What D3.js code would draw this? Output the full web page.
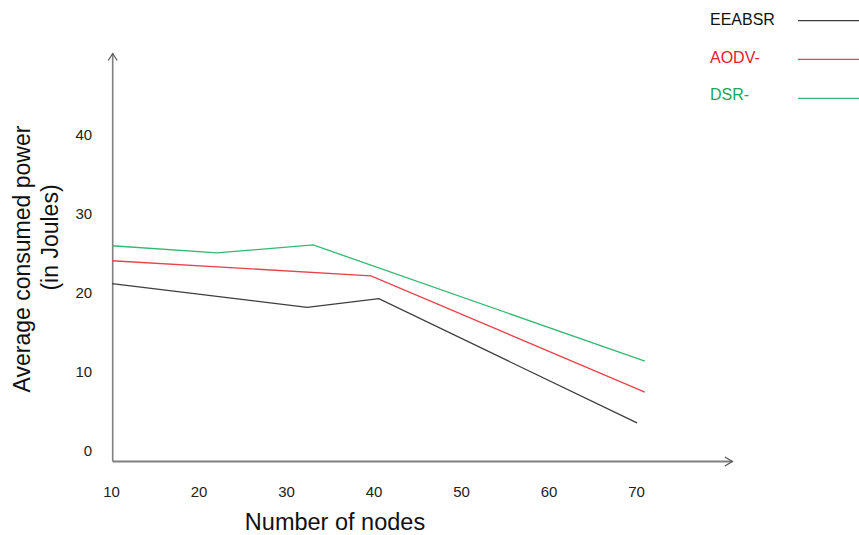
<!DOCTYPE html>
<html>
<head>
<meta charset="utf-8">
<script src="https://cdn.jsdelivr.net/npm/d3@7"></script>
<style>
  html, body { margin: 0; padding: 0; background: #fff; }
  svg { display: block; font-family: "Liberation Sans", Arial, sans-serif; }
</style>
</head>
<body>
<svg id="chart" width="859" height="535"></svg>
<script>
// ---- data ----
const xTicks = [10, 20, 30, 40, 50, 60, 70];
const yTicks = [0, 10, 20, 30, 40];
const seriesNames = ["EEABSR", "AODV-", "DSR-"];
const eeabsrX = [10, 32.3, 40.5, 70];
const eeabsrY = [21.1, 18.1, 19.2, 3.5];
const aodvX = [10, 39.6, 70.9];
const aodvY = [24.0, 22.1, 7.4];
const dsrX = [10, 22, 33, 70.9];
const dsrY = [25.9, 25.0, 26.0, 11.3];
const lineColors = ["#3d3d3d", "#e8434c", "#33b870"];
const textColors = ["#111111", "#e4202c", "#1aa85c"];

const series = [
  { name: seriesNames[0], xs: eeabsrX, ys: eeabsrY },
  { name: seriesNames[1], xs: aodvX, ys: aodvY },
  { name: seriesNames[2], xs: dsrX, ys: dsrY }
];

const svg = d3.select("#chart");
const x = d3.scaleLinear().domain([10, 70]).range([112, 637]);
const y = d3.scaleLinear().domain([0, 40]).range([450.6, 134.2]);

const axisColor = "#808080";
const baseY = y(0) + 11;      // x-axis baseline sits just below zero
const axisX = x(10) + 0.7;
const xEnd = x(80.9);
const yTop = y(50.2);

// axis lines
svg.append("line").attr("x1", axisX).attr("x2", axisX).attr("y1", baseY).attr("y2", yTop)
  .attr("stroke", axisColor).attr("stroke-width", 1.6);
svg.append("line").attr("x1", axisX).attr("x2", xEnd).attr("y1", baseY).attr("y2", baseY)
  .attr("stroke", axisColor).attr("stroke-width", 2);
// arrowheads
svg.append("path")
  .attr("d", `M${axisX - 4.5},${yTop + 7} L${axisX},${yTop} L${axisX + 4.5},${yTop + 7}`)
  .attr("fill", "none").attr("stroke", "#555").attr("stroke-width", 1.2);
svg.append("path")
  .attr("d", `M${xEnd - 7.5},${baseY - 4.5} L${xEnd},${baseY} L${xEnd - 7.5},${baseY + 4.5}`)
  .attr("fill", "none").attr("stroke", "#555").attr("stroke-width", 1.2);

// x tick labels
const gx = svg.append("g").attr("transform", `translate(-1,${baseY})`)
  .call(d3.axisBottom(x).tickValues(xTicks).tickSize(0).tickPadding(24.5).tickFormat(d3.format("d")));
gx.select(".domain").remove();
gx.selectAll("text").attr("font-size", 15).attr("fill", "#222")
  .attr("font-family", "'Liberation Sans', Arial, sans-serif");

// y tick labels
const gy = svg.append("g").attr("transform", `translate(${axisX},0)`)
  .call(d3.axisLeft(y).tickValues(yTicks).tickSize(0).tickPadding(20.5).tickFormat(d3.format("d")));
gy.select(".domain").remove();
gy.selectAll("text").attr("font-size", 15).attr("fill", "#222")
  .attr("font-family", "'Liberation Sans', Arial, sans-serif");

// series lines
const line = d3.line().x(d => x(d[0])).y(d => y(d[1]));
svg.selectAll("path.series").data(series).join("path")
  .attr("class", "series")
  .attr("d", s => line(s.xs.map((v, i) => [v, s.ys[i]])))
  .attr("fill", "none")
  .attr("stroke", (s, i) => lineColors[i])
  .attr("stroke-width", 1.3);

// axis titles
svg.append("text").attr("x", 335).attr("y", 530).attr("text-anchor", "middle")
  .attr("font-size", 23.5).attr("fill", "#111").text("Number of nodes");
svg.append("text").attr("transform", "translate(30,259) rotate(-90)").attr("text-anchor", "middle")
  .attr("font-size", 23).attr("fill", "#111").text("Average consumed power");
svg.append("text").attr("transform", "translate(58,237.5) rotate(-90)").attr("text-anchor", "middle")
  .attr("font-size", 23).attr("fill", "#111").text("(in Joules)");

// legend
const legendY = [19.5, 57.5, 94];
const legendLineY = [20.7, 59.3, 98.3];
const lg = svg.append("g");
lg.selectAll("text").data(series).join("text")
  .attr("x", 710).attr("y", (d, i) => legendY[i]).attr("dy", "0.35em")
  .attr("font-size", 16).attr("fill", (d, i) => textColors[i]).text(d => d.name);
lg.selectAll("line").data(series).join("line")
  .attr("x1", 798).attr("x2", 859)
  .attr("y1", (d, i) => legendLineY[i]).attr("y2", (d, i) => legendLineY[i])
  .attr("stroke", (d, i) => lineColors[i]).attr("stroke-width", 1.2);
</script>
</body>
</html>
